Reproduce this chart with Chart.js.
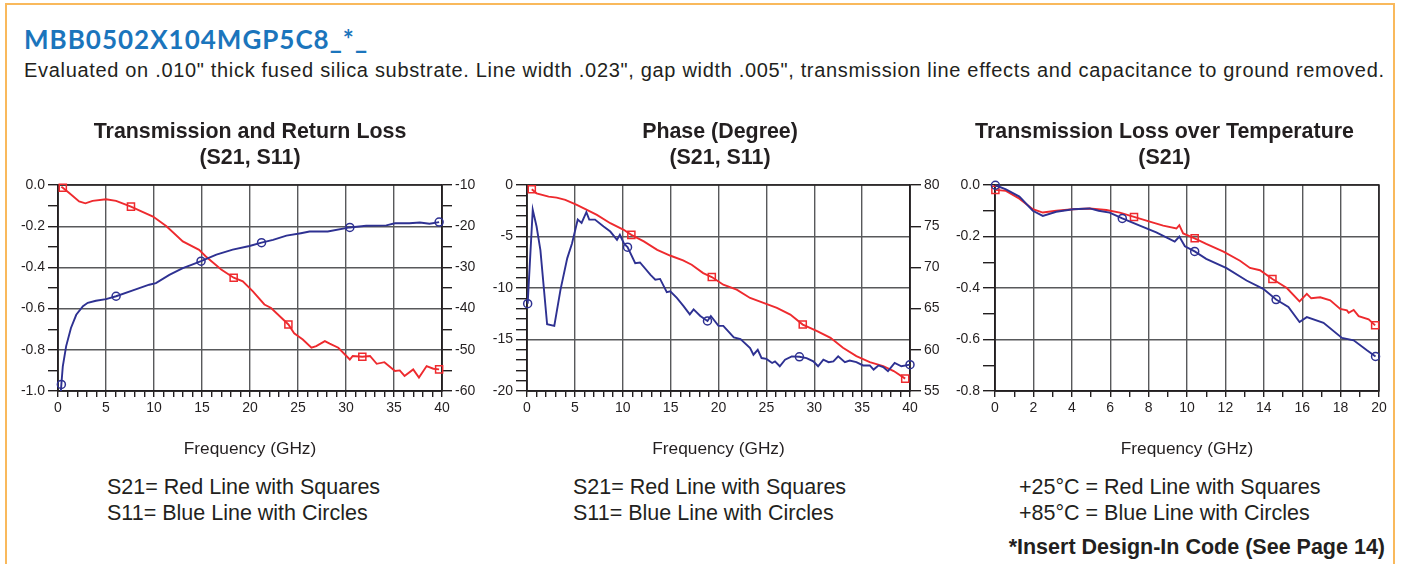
<!DOCTYPE html>
<html>
<head>
<meta charset="utf-8">
<script src="https://cdn.jsdelivr.net/npm/chart.js@4.4.1/dist/chart.umd.min.js"></script>
<style>
  body { margin: 0; width: 1401px; height: 564px; overflow: hidden; background: #fff; position: relative;
         font-family: "Liberation Sans", Arial, sans-serif; color: #231f20; }
  #frame { position: absolute; left: 5px; top: 3px; width: 1386px; height: 640px; border: 2px solid #f9b95c; }
  h1 { position: absolute; left: 24px; top: 23px; margin: 0; font: 700 26px Lato, sans-serif; letter-spacing: 1px; color: #1b75bc; }
  #sub { position: absolute; left: 24px; top: 59px; font-size: 20px; letter-spacing: 0.68px; white-space: nowrap; }
  canvas { position: absolute; top: 100px; }
  .legend { position: absolute; top: 474px; font-size: 21.5px; line-height: 26px; white-space: nowrap; }
  #note { position: absolute; right: 16px; top: 535px; font-weight: 700; font-size: 21.5px; white-space: nowrap; }
</style>
</head>
<body>
<div id="frame"></div>
<h1>MBB0502X104MGP5C8_*_</h1>
<div id="sub">Evaluated on .010" thick fused silica substrate. Line width .023", gap width .005", transmission line effects and capacitance to ground removed.</div>

<canvas id="lossChart" width="480" height="370" style="left:10px"></canvas>
<canvas id="phaseChart" width="460" height="370" style="left:490px"></canvas>
<canvas id="tempChart" width="445" height="370" style="left:950px"></canvas>

<div class="legend" style="left:107px">S21= Red Line with Squares<br>S11= Blue Line with Circles</div>
<div class="legend" style="left:573px">S21= Red Line with Squares<br>S11= Blue Line with Circles</div>
<div class="legend" style="left:1019px">+25°C = Red Line with Squares<br>+85°C = Blue Line with Circles</div>
<div id="note">*Insert Design-In Code (See Page 14)</div>

<script>
// Transmission and Return Loss (GHz / dB)
const tlFreqS21 = [0.35, 0.5, 1.2, 2.2, 2.85, 3.6, 5.0, 6.05, 7.6, 8.8, 9.9, 11.3, 13.0, 14.7, 15.4, 17.0, 18.3, 19.25, 20.3, 21.5,
  22.2, 24.0, 24.6, 25.5, 26.4, 26.9, 27.8, 28.3, 29.2, 30.4, 30.7, 31.7, 32.5, 33.2, 34.0, 35.1, 35.6, 36.1, 37.0, 37.6, 38.4, 39.1, 39.7];
const tlS21 = [-0.008, -0.013, -0.04, -0.08, -0.089, -0.077, -0.069, -0.077, -0.105, -0.13, -0.153, -0.2, -0.274, -0.315, -0.347, -0.41, -0.45, -0.468, -0.516, -0.58,
  -0.597, -0.677, -0.72, -0.75, -0.79, -0.782, -0.758, -0.77, -0.79, -0.847, -0.83, -0.834, -0.83, -0.868, -0.86, -0.903, -0.9, -0.927, -0.895, -0.935, -0.879, -0.892, -0.895];
const tlS21Marks = [0.5, 7.6, 18.3, 24.0, 31.7, 39.7];

const tlFreqS11 = [0.3, 0.35, 0.5, 0.85, 1.35, 1.9, 2.6, 3.1, 3.95, 5.0, 6.05, 7.8, 9.5, 10.2, 11.6, 13.0, 13.9, 14.9, 16.5, 18.2,
  19.95, 21.2, 22.4, 23.8, 25.3, 26.2, 28.1, 30.4, 32.1, 34.2, 35.1, 36.6, 37.7, 38.7, 39.7];
const tlS11 = [-60, -58.4, -54.0, -49.1, -44.7, -41.5, -39.4, -38.6, -38.1, -37.7, -37.0, -35.6, -34.2, -33.8, -31.8, -30.2, -29.4, -28.5, -26.9, -25.7,
  -24.8, -24.0, -23.3, -22.3, -21.7, -21.3, -21.3, -20.3, -19.9, -19.8, -19.3, -19.3, -19.1, -19.4, -19.0];
const tlS11Marks = [0.35, 6.05, 14.9, 21.2, 30.4, 39.7];

// Phase (degree)
const phFreqS21 = [0.5, 1.0, 2.26, 3.1, 4.0, 5.2, 6.1, 7.3, 8.7, 10.1, 10.9, 12.2, 13.6, 15.0, 16.3, 17.2, 18.4, 19.3, 20.5, 21.9,
  23.3, 24.7, 26.1, 27.5, 28.8, 30.3, 31.7, 33.0, 34.4, 35.8, 37.2, 38.3, 39.5];
const phS21 = [-0.42, -0.81, -1.13, -1.23, -1.45, -1.94, -2.35, -2.9, -3.71, -4.35, -4.84, -5.48, -6.29, -6.87, -7.32, -7.74, -8.55, -8.94, -9.68, -10.16,
  -10.97, -11.45, -11.94, -12.58, -13.55, -14.19, -14.84, -15.8, -16.61, -17.19, -17.58, -18.06, -18.8];
const phS21Marks = [0.5, 10.9, 19.3, 28.8, 39.5];

const phFreqS11 = [0.07, 0.6, 1.0, 1.4, 2.1, 2.85, 3.5, 4.2, 4.7, 5.3, 5.7, 6.2, 6.5, 7.1, 8.0, 8.7, 9.4, 9.7, 10.15, 10.5,
  11.3, 11.8, 12.9, 13.4, 13.9, 14.6, 14.96, 15.65, 16.35, 17.0, 17.4, 18.1, 18.85, 19.2, 20.0, 20.5, 21.6, 22.3, 23.3, 23.65,
  24.1, 24.5, 25.0, 25.6, 25.9, 26.4, 26.95, 27.65, 28.45, 29.2, 29.9, 30.4, 30.95, 31.5, 32.0, 32.5, 33.2, 33.7, 34.4, 35.1,
  35.8, 36.2, 36.7, 37.2, 37.7, 38.4, 39.1, 40.0];
const phS11 = [65.6, 77.0, 74.96, 72.1, 63.1, 62.9, 67.3, 71.1, 72.9, 75.8, 75.4, 76.7, 75.8, 75.8, 74.96, 74.35, 73.35, 73.95, 72.86, 72.46,
  70.5, 70.6, 69.1, 68.5, 68.6, 67.0, 67.1, 66.3, 65.3, 64.3, 64.9, 64.1, 63.5, 64.1, 62.9, 62.9, 61.5, 61.3, 60.2, 59.4,
  60.0, 59.0, 58.9, 58.4, 58.6, 58.0, 58.8, 59.2, 59.15, 59.0, 58.6, 58.0, 58.8, 58.5, 58.6, 59.2, 58.5, 58.7, 58.5, 58.1,
  58.1, 57.6, 58.1, 57.9, 57.4, 58.4, 58.0, 58.2];
const phS11Marks = [0.07, 10.5, 18.85, 28.45, 40.0];

// Transmission loss over temperature (S21)
const tcFreq25 = [0.02, 0.57, 1.27, 1.97, 2.49, 3.19, 4.06, 4.93, 5.8, 6.5, 7.24, 8.06, 8.76, 9.45, 9.6, 9.8, 10.4, 11.0, 11.9, 12.76,
  13.28, 13.8, 14.45, 15.2, 15.86, 16.24, 16.47, 16.94, 17.46, 17.98, 18.33, 18.42, 18.68, 18.94, 19.46, 19.8];
const tc25 = [-0.019, -0.023, -0.053, -0.094, -0.107, -0.1, -0.094, -0.091, -0.097, -0.107, -0.124, -0.142, -0.158, -0.169, -0.156, -0.188, -0.207, -0.229, -0.259, -0.294,
  -0.322, -0.331, -0.365, -0.4, -0.452, -0.423, -0.44, -0.436, -0.448, -0.481, -0.487, -0.496, -0.485, -0.509, -0.522, -0.545];
const tc25Marks = [0.02, 7.24, 10.4, 14.45, 19.8];

const tcFreq85 = [0.02, 0.57, 1.27, 1.97, 2.49, 3.19, 4.06, 4.93, 5.4, 5.97, 6.63, 7.54, 8.4, 9.36, 9.6, 9.89, 10.4, 11.0, 12.06, 13.1,
  13.97, 14.64, 15.28, 15.86, 16.24, 17.11, 18.07, 18.68, 19.37, 19.82];
const tc85 = [-0.001, -0.017, -0.045, -0.1, -0.12, -0.104, -0.094, -0.091, -0.1, -0.107, -0.13, -0.158, -0.184, -0.22, -0.2, -0.238, -0.258, -0.287, -0.323, -0.371,
  -0.403, -0.445, -0.474, -0.532, -0.513, -0.535, -0.594, -0.603, -0.642, -0.666];
const tc85Marks = [0.02, 6.63, 10.4, 14.64, 19.82];

const RED = '#ee2a2e';
const BLUE = '#2e3192';
const INK = '#231f20';
const GRID = '#58595b';
const FONT = 'Liberation Sans, Arial, sans-serif';

// box around plot area
const boxFrame = {
  id: 'boxFrame',
  beforeDatasetsDraw(chart) {
    const a = chart.chartArea, ctx = chart.ctx;
    ctx.save();
    ctx.strokeStyle = INK;
    ctx.lineWidth = 1.5;
    ctx.strokeRect(a.left, a.top, a.right - a.left, a.bottom - a.top);
    ctx.restore();
  }
};

function series(xs, ys, marks, color, shape, axis) {
  return {
    data: xs.map((x, i) => ({ x: x, y: ys[i] })),
    yAxisID: axis,
    borderColor: color,
    borderWidth: 1.9,
    tension: 0,
    clip: false,
    pointStyle: shape,
    pointRadius: c => marks.includes(xs[c.dataIndex]) ? (shape === 'rect' ? 5 : 4) : 0,
    pointHoverRadius: 0,
    pointBorderColor: color,
    pointBorderWidth: 1.5,
    pointBackgroundColor: 'rgba(255,255,255,0)'
  };
}

function xScale(max, major) {
  return {
    type: 'linear', min: 0, max: max,
    ticks: {
      stepSize: 1, autoSkip: false, maxRotation: 0, padding: 3, color: INK,
      font: { family: FONT, size: 14 },
      callback: v => (v % major === 0 ? v : '')
    },
    grid: {
      color: c => (c.tick && c.tick.value % major === 0 ? GRID : 'rgba(0,0,0,0)'),
      tickColor: INK, tickLength: 6, lineWidth: 1.4
    },
    border: { color: INK, width: 1.5 },
    title: { display: true, text: 'Frequency (GHz)', color: INK, font: { family: FONT, size: 17.3 }, padding: { top: 0, bottom: 10 } },
    afterFit: s => { s.height = 79; }
  };
}

function yScale(min, max, step, major, digits, width, side, tickLen) {
  const isMajor = v => Math.round(v / step) % Math.round(major / step) === 0;
  return {
    type: 'linear', position: side, min: min, max: max,
    ticks: {
      stepSize: step, autoSkip: false, padding: 3, color: INK,
      font: { family: FONT, size: 14 },
      callback: v => (isMajor(v) ? v.toFixed(digits) : '')
    },
    grid: {
      drawOnChartArea: side === 'left',
      color: c => (c.tick && isMajor(c.tick.value) ? GRID : 'rgba(0,0,0,0)'),
      tickColor: INK, tickLength: tickLen, lineWidth: 1.4
    },
    border: { color: INK, width: 1.5 },
    afterFit: s => { s.width = width; }
  };
}

function titleOpts(lines) {
  return {
    display: true, text: lines, color: INK,
    font: { family: FONT, size: 21.4, weight: 'bold', lineHeight: 1.215 },
    padding: { top: 19, bottom: 14 }
  };
}

const basePlugins = { legend: { display: false }, tooltip: { enabled: false } };

new Chart(document.getElementById('lossChart'), {
  type: 'line',
  data: {
    datasets: [
      series(tlFreqS11, tlS11, tlS11Marks, BLUE, 'circle', 'y2'),
      series(tlFreqS21, tlS21, tlS21Marks, RED, 'rect', 'y')
    ]
  },
  options: {
    responsive: false, animation: false, events: [],
    layout: { padding: 0 },
    plugins: { ...basePlugins, title: titleOpts(['Transmission and Return Loss', '(S21, S11)']) },
    scales: {
      x: xScale(40, 5),
      y: yScale(-1, 0, 0.1, 0.2, 1, 48, 'left', 10),
      y2: yScale(-60, -10, 5, 10, 0, 48, 'right', 10)
    }
  },
  plugins: [boxFrame]
});

new Chart(document.getElementById('phaseChart'), {
  type: 'line',
  data: {
    datasets: [
      series(phFreqS11, phS11, phS11Marks, BLUE, 'circle', 'y2'),
      series(phFreqS21, phS21, phS21Marks, RED, 'rect', 'y')
    ]
  },
  options: {
    responsive: false, animation: false, events: [],
    layout: { padding: 0 },
    plugins: { ...basePlugins, title: titleOpts(['Phase (Degree)', '(S21, S11)']) },
    scales: {
      x: xScale(40, 5),
      y: yScale(-20, 0, 1, 5, 0, 37, 'left', 11),
      y2: yScale(55, 80, 5, 5, 0, 40, 'right', 11)
    }
  },
  plugins: [boxFrame]
});

new Chart(document.getElementById('tempChart'), {
  type: 'line',
  data: {
    datasets: [
      series(tcFreq85, tc85, tc85Marks, BLUE, 'circle', 'y'),
      series(tcFreq25, tc25, tc25Marks, RED, 'rect', 'y')
    ]
  },
  options: {
    responsive: false, animation: false, events: [],
    layout: { padding: { right: 16 } },
    plugins: { ...basePlugins, title: titleOpts(['Transmission Loss over Temperature', '(S21)']) },
    scales: {
      x: xScale(20, 2),
      y: yScale(-0.8, 0, 0.1, 0.2, 1, 45, 'left', 12)
    }
  },
  plugins: [boxFrame]
});
</script>
</body>
</html>
